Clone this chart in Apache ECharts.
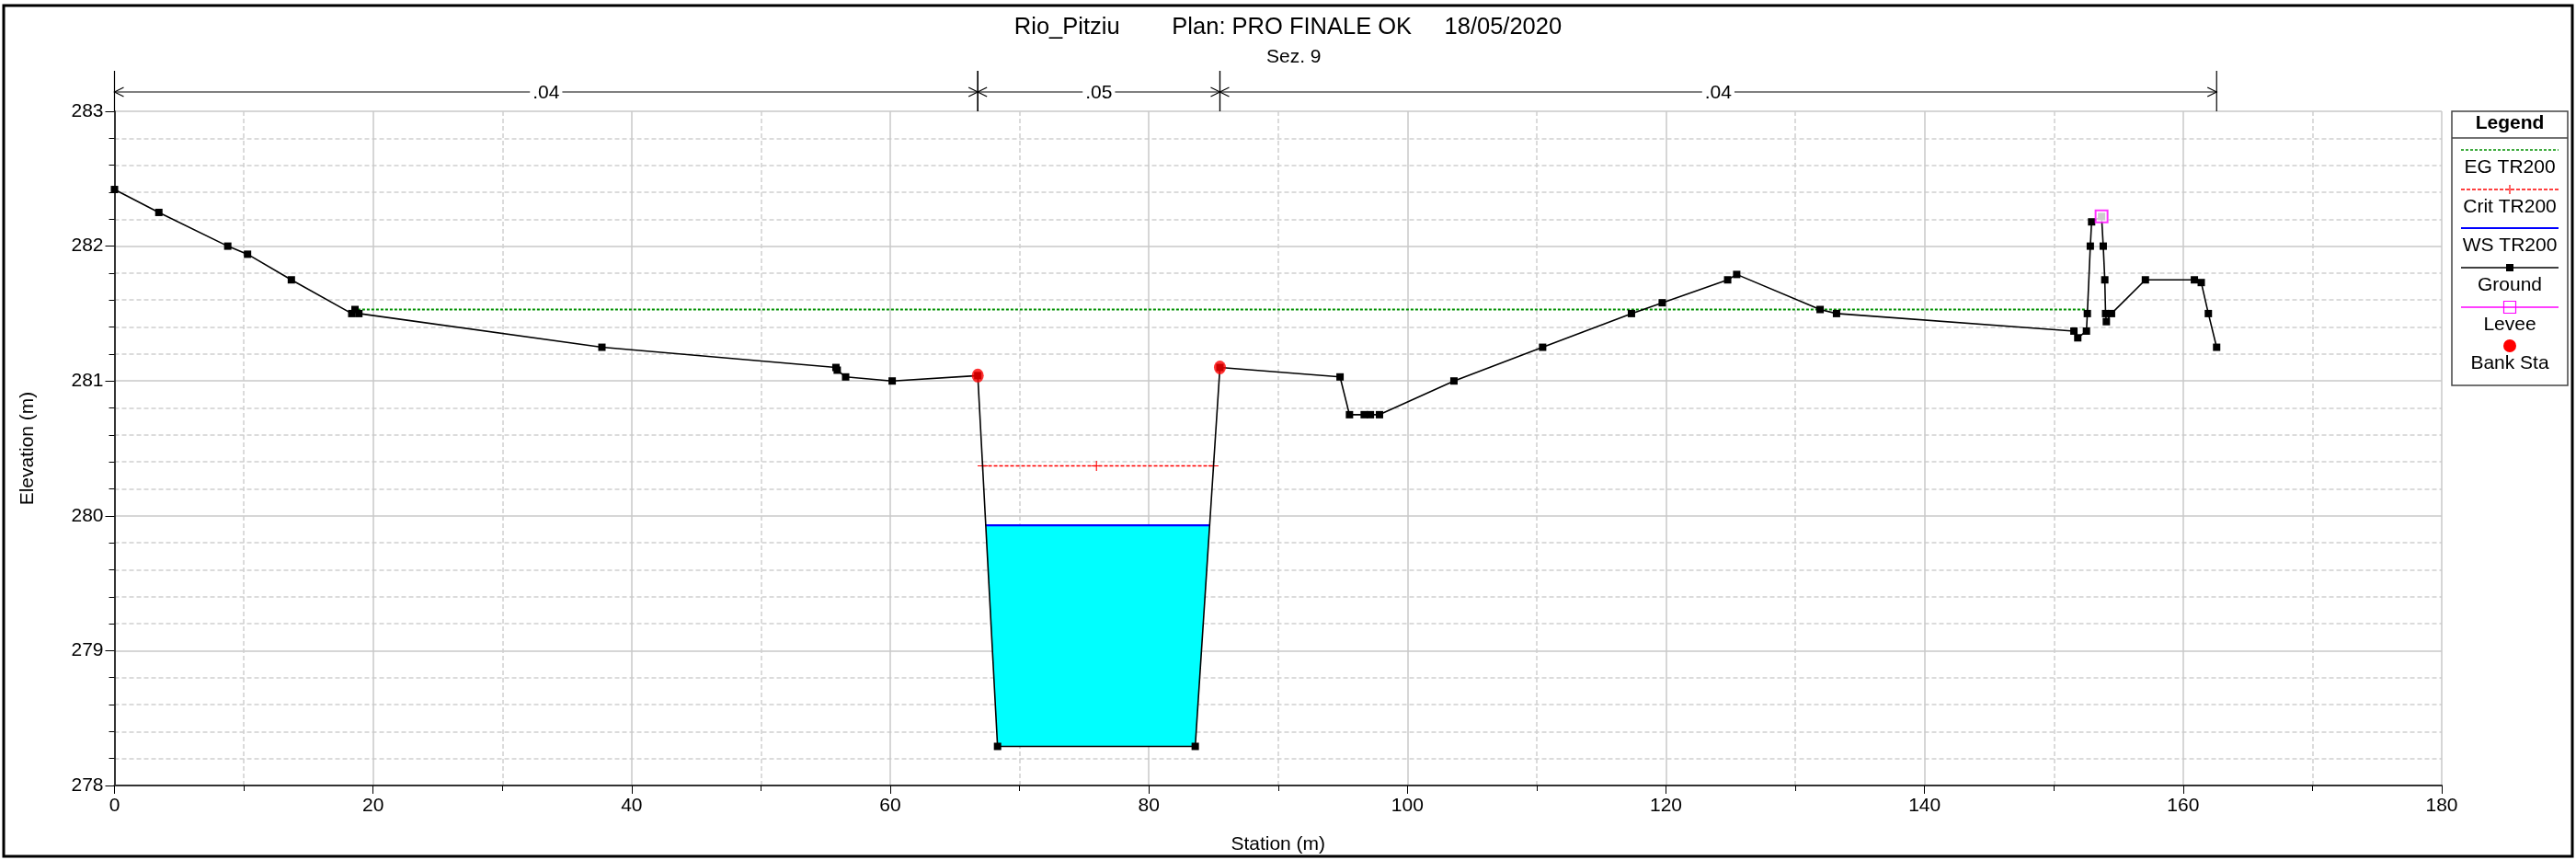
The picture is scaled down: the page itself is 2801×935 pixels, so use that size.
<!DOCTYPE html>
<html>
<head>
<meta charset="utf-8">
<script src="https://cdn.jsdelivr.net/npm/echarts@6/dist/echarts.min.js"></script>
<style>
  html, body { margin: 0; padding: 0; background: #fff; }
  #chart { width: 2801px; height: 935px; }
</style>
</head>
<body>
<div id="chart"></div>
<script>
// ground profile (station m, elevation m)
const groundStation = [0, 3.43, 8.76, 10.29, 13.68, 18.35, 18.6, 18.9, 37.7, 55.8, 55.9, 56.55, 60.15, 66.77,
  68.3, 83.59, 85.5, 94.79, 95.52, 96.66, 97.14, 97.84, 103.6, 110.46, 117.33, 119.71, 124.77, 125.47,
  131.92, 133.19, 151.55, 151.85, 152.52, 152.59, 152.82, 152.92, 153.69, 153.82, 153.94, 154.0, 154.06,
  154.46, 157.08, 160.87, 161.4, 161.95, 162.59]
const groundElev = [282.42, 282.25, 282.0, 281.94, 281.75, 281.5, 281.53, 281.5, 281.25, 281.1, 281.08, 281.03, 281.0, 281.04,
  278.29, 278.29, 281.1, 281.03, 280.75, 280.75, 280.75, 280.75, 281.0, 281.25, 281.5, 281.58, 281.75, 281.79,
  281.53, 281.5, 281.37, 281.32, 281.37, 281.5, 282.0, 282.18, 282.22, 282.0, 281.75, 281.5, 281.44,
  281.5, 281.75, 281.75, 281.73, 281.5, 281.25]

const bankStation = [66.77, 85.5]
const leveeStation = [153.69]
const leveeElev = [282.22]
const wsElev = 279.93
const critStation = [67.15, 75.95, 85.0]
const critElev = 280.37
const egStation = [18.45, 152.55]
const egElev = 281.53
const nBreaks = [0, 66.77, 85.5, 162.59]
const nValues = ['.04', '.05', '.04']

const FONT = '"Liberation Sans", Arial, sans-serif'
const PLUS = 'path://M4.5,0h1v4.5h4.5v1h-4.5v4.5h-1v-4.5h-4.5v-1h4.5z'

const pairs = (xs, ys) => xs.map((x, i) => [x, Array.isArray(ys) ? ys[i] : ys])
const groundData = pairs(groundStation, groundElev)
const bankData = bankStation.map(s => [s, groundElev[groundStation.indexOf(s)]])

// water area: ground between the banks clipped at the water surface
function waterPolygon() {
    const i0 = groundStation.indexOf(bankStation[0])
    const i1 = groundStation.indexOf(bankStation[1])
    const pts = []
    for (let i = i0; i < i1; i++) {
        const xa = groundStation[i], ya = groundElev[i]
        const xb = groundStation[i + 1], yb = groundElev[i + 1]
        if (ya <= wsElev) pts.push([xa, ya])
        if ((ya - wsElev) * (yb - wsElev) < 0) {
            const t = (wsElev - ya) / (yb - ya)
            pts.push([xa + t * (xb - xa), wsElev])
        }
    }
    if (groundElev[i1] <= wsElev) pts.push([groundStation[i1], groundElev[i1]])
    return pts
}
const water = waterPolygon()
const wsData = [[water[0][0], wsElev], [water[water.length - 1][0], wsElev]]

let myChart = echarts.init(document.getElementById('chart'))

const legendX0 = 2666, legendX1 = 2792, legendMid = 2729
const item = (y, text) => ({ type: 'text', style: { text: text, x: legendMid, y: y, align: 'center', verticalAlign: 'middle', font: '21px ' + FONT, fill: '#000' } })
const hline = (y, color, dash, w) => ({ type: 'line', shape: { x1: 2676, y1: y, x2: 2782, y2: y }, style: { stroke: color, lineWidth: w || 1.5, lineDash: dash || null } })

let option = {
    animation: false,
    backgroundColor: '#fff',
    title: [{
        text: 'Rio_Pitziu        Plan: PRO FINALE OK     18/05/2020',
        left: 'center', top: 17, padding: 0,
        textStyle: { fontFamily: FONT, fontSize: 25.5, fontWeight: 'normal', color: '#000' }
    }, {
        text: 'Sez. 9',
        left: 1377, top: 52, padding: 0,
        textStyle: { fontFamily: FONT, fontSize: 21, fontWeight: 'normal', color: '#000' }
    }],
    grid: { left: 124.5, right: 146, top: 121, bottom: 81 },
    xAxis: {
        type: 'value', min: 0, max: 180, interval: 20,
        name: 'Station (m)', nameLocation: 'middle', nameGap: 54,
        nameTextStyle: { fontFamily: FONT, fontSize: 21, color: '#000' },
        axisLine: { lineStyle: { color: '#333', width: 2 } },
        axisTick: { length: 9, lineStyle: { color: '#000' } },
        minorTick: { show: true, splitNumber: 2, length: 6, lineStyle: { color: '#000' } },
        axisLabel: { margin: 12, fontFamily: FONT, fontSize: 21, color: '#000' },
        splitLine: { lineStyle: { color: '#c8c8c8', width: 1.5 } },
        minorSplitLine: { show: true, lineStyle: { color: '#cfcfcf', type: [5, 3], width: 1.5 } }
    },
    yAxis: {
        type: 'value', min: 278, max: 283, interval: 1,
        name: 'Elevation (m)', nameLocation: 'middle', nameGap: 84,
        nameTextStyle: { fontFamily: FONT, fontSize: 21, color: '#000' },
        axisLine: { show: true, lineStyle: { color: '#000', width: 1.5 } },
        axisTick: { show: true, length: 10, lineStyle: { color: '#000' } },
        minorTick: { show: true, splitNumber: 5, length: 6, lineStyle: { color: '#000' } },
        axisLabel: { margin: 12, fontFamily: FONT, fontSize: 21, color: '#000' },
        splitLine: { lineStyle: { color: '#c8c8c8', width: 1.5 } },
        minorSplitLine: { show: true, lineStyle: { color: '#cfcfcf', type: [5, 3], width: 1.5 } }
    },
    series: [{
        name: 'WS area', type: 'custom', z: 1, clip: true,
        data: [[water[0][0], wsElev]],
        renderItem: (params, api) => ({
            type: 'polygon',
            shape: { points: water.map(p => api.coord(p)) },
            style: { fill: '#00ffff' }
        })
    }, {
        name: 'WS TR200', type: 'line', z: 3, data: wsData, symbol: 'none',
        lineStyle: { color: '#0000ff', width: 2.2 }
    }, {
        name: 'EG TR200', type: 'line', z: 2, data: pairs(egStation, egElev), symbol: 'none',
        lineStyle: { color: '#009000', width: 1.8, type: [3, 2] }
    }, {
        name: 'Crit TR200', type: 'line', z: 3, data: pairs(critStation, critElev),
        symbol: PLUS, symbolSize: 11, itemStyle: { color: '#ff0000' },
        lineStyle: { color: '#ff0000', width: 1.6, type: [4, 2] }
    }, {
        name: 'Ground', type: 'line', z: 4, data: groundData,
        symbol: 'rect', symbolSize: 8, itemStyle: { color: '#000' },
        lineStyle: { color: '#000', width: 1.6 }
    }, {
        name: 'Levee', type: 'scatter', z: 5, data: pairs(leveeStation, leveeElev),
        symbol: 'emptyRect', symbolSize: 13, itemStyle: { color: '#ff00ff', borderWidth: 1.2 }
    }, {
        name: 'Bank Sta', type: 'scatter', z: 6, data: bankData,
        symbol: 'circle', symbolSize: [13, 15], itemStyle: { color: '#ff0000' }
    }, {
        name: 'n values', type: 'custom', z: 6, clip: false,
        data: nValues.map((v, i) => [nBreaks[i], nBreaks[i + 1]]),
        renderItem: (params, api) => {
            const top = api.coord([0, 283])[1]
            const x0 = api.coord([api.value(0), 283])[0]
            const x1 = api.coord([api.value(1), 283])[0]
            const y = top - 21
            const st = { stroke: '#000', lineWidth: 1.2, fill: null }
            return {
                type: 'group',
                children: [
                    { type: 'line', shape: { x1: x0, y1: y, x2: x1, y2: y }, style: st },
                    { type: 'line', shape: { x1: x0, y1: top - 44, x2: x0, y2: top }, style: st },
                    { type: 'line', shape: { x1: x1, y1: top - 44, x2: x1, y2: top }, style: st },
                    { type: 'polyline', shape: { points: [[x0 + 10, y - 5], [x0, y], [x0 + 10, y + 5]] }, style: st },
                    { type: 'polyline', shape: { points: [[x1 - 10, y - 5], [x1, y], [x1 - 10, y + 5]] }, style: st },
                    {
                        type: 'text', z2: 10,
                        style: {
                            text: nValues[params.dataIndex], x: (x0 + x1) / 2, y: y + 1,
                            align: 'center', verticalAlign: 'middle', font: '21px ' + FONT,
                            fill: '#000', backgroundColor: '#fff', padding: [0, 3]
                        }
                    }
                ]
            }
        }
    }],
    graphic: [
        { type: 'rect', shape: { x: 4, y: 6, width: 2793, height: 925 }, style: { fill: null, stroke: '#000', lineWidth: 3 } },
        { type: 'rect', shape: { x: legendX0, y: 121, width: legendX1 - legendX0, height: 298 }, style: { fill: '#fff', stroke: '#444', lineWidth: 1.5 } },
        { type: 'text', style: { text: 'Legend', x: legendMid, y: 134, align: 'center', verticalAlign: 'middle', font: 'bold 21px ' + FONT, fill: '#000' } },
        { type: 'line', shape: { x1: legendX0, y1: 150, x2: legendX1, y2: 150 }, style: { stroke: '#444', lineWidth: 1.5 } },
        hline(163, '#009000', [3, 2]),
        item(182, 'EG TR200'),
        hline(206, '#ff0000', [4, 2], 1.4),
        { type: 'line', shape: { x1: legendMid, y1: 201, x2: legendMid, y2: 211 }, style: { stroke: '#ff0000', lineWidth: 1.2 } },
        item(225, 'Crit TR200'),
        hline(248, '#0000ff', null, 2),
        item(267, 'WS TR200'),
        hline(291, '#000'),
        { type: 'rect', shape: { x: legendMid - 4, y: 287, width: 8, height: 8 }, style: { fill: '#000' } },
        item(310, 'Ground'),
        hline(334, '#ff00ff'),
        { type: 'rect', shape: { x: legendMid - 6.5, y: 327.5, width: 13, height: 13 }, style: { fill: 'rgba(255,255,255,0)', stroke: '#ff00ff', lineWidth: 1.2 } },
        item(353, 'Levee'),
        { type: 'circle', shape: { cx: legendMid, cy: 376, r: 7 }, style: { fill: '#ff0000' } },
        item(395, 'Bank Sta')
    ]
}
myChart.setOption(option)
</script>
</body>
</html>
